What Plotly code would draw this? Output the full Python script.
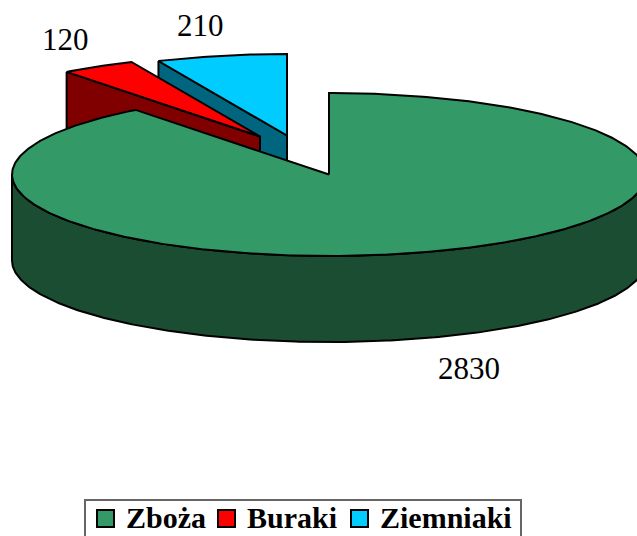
import numpy as np
import plotly.graph_objects as go

categories = ["Zboża", "Buraki", "Ziemniaki"]
values = [2830, 120, 210]

top_colors = ["#339966", "#FF0000", "#00CCFF"]
side_colors = ["#1B4D33", "#800000", "#006680"]

# pie projection, in pixels of the 637x536 page
WIDTH, HEIGHT = 637, 536
CX, CY, RX, RY, DEPTH = 329, 174.5, 317, 81.5, 86
EXPLODE = [(0, 0), (-69, -38), (-42, -39)]
LABEL_POS = [(468.5, 368), (65, 39), (200, 25)]
KEY_BOX = (85, 500, 521, 540)
KEY_SWATCH_X = [105, 226, 359.5]
KEY_TEXT_X = [124, 245, 377.5]
KEY_SWATCH_Y = 518
KEY_TEXT_Y = 517

fracs = np.array(values, dtype=float) / sum(values)
stops = np.concatenate([[0], np.cumsum(fracs)]) * 2 * np.pi


def rim(a0, a1, ox, oy, dy=0.0):
    n = max(2, int(abs(a1 - a0) * 90))
    t = np.linspace(a0, a1, n)
    return CX + ox + RX * np.sin(t), CY + oy + dy - RY * np.cos(t)


def poly(fig, xs, ys, fill):
    fig.add_trace(go.Scatter(
        x=list(xs) + [xs[0]], y=list(ys) + [ys[0]], mode="lines", fill="toself",
        fillcolor=fill, line=dict(color="#000000", width=2),
        hoverinfo="skip", showlegend=False))


fig = go.Figure()

# exploded slices are drawn back to front, the large slice goes on top of them
for i in (2, 1):
    a0, a1 = stops[i], stops[i + 1]
    ox, oy = EXPLODE[i]
    ax, ay = CX + ox, CY + oy
    ex = ax + RX * np.sin(a0)
    ey = ay - RY * np.cos(a0)
    poly(fig, [ex, ax, ax, ex], [ey, ay, ay + DEPTH, ey + DEPTH], side_colors[i])
    rx_, ry_ = rim(a0, a1, ox, oy)
    poly(fig, np.r_[ax, rx_], np.r_[ay, ry_], top_colors[i])

# large slice: curved front wall, then its top face
a0, a1 = stops[0], stops[1]
fx, fy = rim(np.pi / 2, 3 * np.pi / 2, 0, 0)
bx, by = rim(3 * np.pi / 2, np.pi / 2, 0, 0, DEPTH)
poly(fig, np.r_[fx, bx], np.r_[fy, by], side_colors[0])
rx_, ry_ = rim(a0, a1, 0, 0)
poly(fig, np.r_[CX, rx_], np.r_[CY, ry_], top_colors[0])

# key
fig.add_shape(type="rect", x0=KEY_BOX[0], y0=KEY_BOX[1], x1=KEY_BOX[2], y1=KEY_BOX[3],
              line=dict(color="#666666", width=2), fillcolor="#FFFFFF", layer="above")
for name, color, sx, tx in zip(categories, top_colors, KEY_SWATCH_X, KEY_TEXT_X):
    fig.add_annotation(x=sx, y=KEY_SWATCH_Y, text="", showarrow=False, width=15, height=15,
                       bgcolor=color, bordercolor="#000000", borderwidth=2, borderpad=0)
    fig.add_annotation(x=tx, y=KEY_TEXT_Y, text=name, showarrow=False, xanchor="left",
                       font=dict(family="Liberation Serif", size=30, color="#000000",
                                 weight="bold"))

for val, (lx, ly) in zip(values, LABEL_POS):
    fig.add_annotation(x=lx, y=ly, text=str(val), showarrow=False,
                       font=dict(family="Liberation Serif", size=31, color="#000000"))

fig.update_layout(
    width=WIDTH, height=HEIGHT, margin=dict(l=0, r=0, t=0, b=0),
    paper_bgcolor="#FFFFFF", plot_bgcolor="#FFFFFF", showlegend=False,
    xaxis=dict(range=[0, WIDTH], visible=False, fixedrange=True),
    yaxis=dict(range=[HEIGHT, 0], visible=False, fixedrange=True),
)
fig.write_html("out.html", config=dict(displayModeBar=False),
               post_script="document.body.style.margin='0';document.documentElement.style.overflow='hidden';")
